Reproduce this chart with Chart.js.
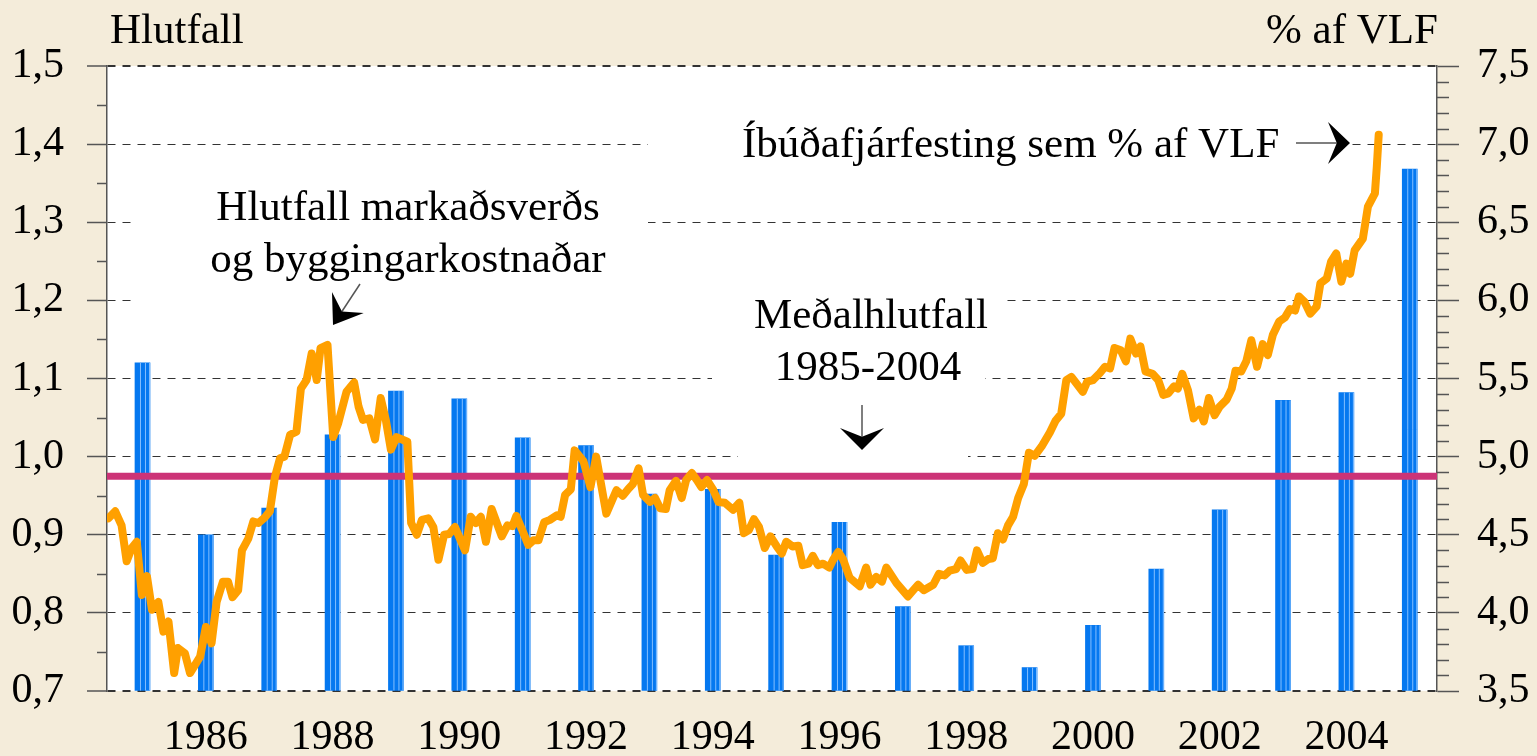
<!DOCTYPE html>
<html>
<head>
<meta charset="utf-8">
<script src="https://cdn.jsdelivr.net/npm/chart.js@4.4.1/dist/chart.umd.min.js"></script>
<style>
  html, body { margin: 0; padding: 0; background: #f4ecda; }
  canvas { display: block; }
</style>
</head>
<body>
<canvas id="chart" width="1537" height="756"></canvas>
<script>
// annual housing investment, % of GDP (right axis)
const barYears = [1985,1986,1987,1988,1989,1990,1991,1992,1993,1994,1995,
                  1996,1997,1998,1999,2000,2001,2002,2003,2004,2005];
const barValues = [5.60,4.50,4.67,5.14,5.42,5.37,5.12,5.07,4.76,4.79,4.37,
                   4.58,4.04,3.79,3.65,3.92,4.28,4.66,5.36,5.41,6.84];

// ratio of market price to building cost (left axis)
const lineYears = [
  1984.46,1984.57,1984.67,1984.75,1984.83,1984.91,1984.99,1985.07,1985.15,1985.25,1985.33,1985.41,1985.50,1985.56,1985.67,1985.75,1985.91,1986.00,1986.09,1986.17,1986.27,1986.35,1986.42,1986.51,1986.57,1986.67,1986.75,1986.83,1986.93,1987.01,1987.09,1987.17,1987.24,1987.33,1987.43,1987.50,1987.59,1987.67,1987.75,1987.81,1987.92,1988.01,1988.09,1988.22,1988.34,
  1988.41,1988.48,1988.58,1988.67,1988.76,1988.84,1988.92,1989.01,1989.18,1989.24,1989.33,1989.41,1989.51,1989.59,1989.67,1989.76,1989.84,1989.93,1990.09,1990.18,1990.26,1990.34,1990.42,1990.51,1990.67,1990.76,1990.84,1990.90,1991.09,1991.17,1991.25,1991.34,1991.43,1991.54,1991.60,1991.67,1991.76,1991.82,1991.96,1992.07,1992.16,
  1992.32,1992.48,1992.58,1992.67,1992.74,1992.83,1992.90,1993.01,1993.09,1993.17,1993.26,1993.32,1993.42,1993.51,1993.58,1993.67,1993.75,1993.82,1993.91,1994.01,1994.09,1994.19,1994.32,1994.42,1994.49,1994.57,1994.65,1994.73,1994.82,1994.91,1995.01,1995.09,1995.16,1995.26,1995.35,1995.42,1995.51,1995.58,1995.66,1995.74,1995.84,1995.90,1995.98,1996.06,1996.16,
  1996.32,1996.42,1996.49,1996.58,1996.67,1996.74,1996.90,1997.08,1997.24,1997.33,1997.48,1997.57,1997.66,1997.74,1997.84,1997.91,1998.01,1998.10,1998.17,1998.26,1998.35,1998.42,1998.50,1998.58,1998.66,1998.74,1998.82,1998.91,1998.99,1999.08,1999.19,1999.32,1999.41,1999.50,1999.58,1999.66,1999.84,1999.91,2000.00,
  2000.11,2000.19,2000.27,2000.34,2000.44,2000.52,2000.59,2000.68,2000.75,2000.83,2000.94,2001.03,2001.11,2001.19,2001.28,2001.34,2001.41,2001.50,2001.59,2001.68,2001.75,2001.83,2001.92,2002.00,2002.11,2002.19,2002.25,2002.34,2002.42,2002.50,2002.59,2002.68,2002.76,2002.84,2002.94,2003.03,2003.11,2003.19,2003.25,2003.34,2003.43,2003.53,2003.59,2003.69,2003.76,2003.84,2003.92,2004.00,2004.06,2004.13,2004.26,2004.34,2004.45,2004.48,2004.51
];
const lineValues = [
  0.921,0.930,0.912,0.866,0.883,0.891,0.823,0.847,0.804,0.814,0.776,0.789,0.723,0.755,0.748,0.723,0.744,0.782,0.761,0.814,0.840,0.840,0.820,0.829,0.880,0.895,0.917,0.915,0.922,0.930,0.974,0.998,1.000,1.028,1.032,1.087,1.098,1.132,1.098,1.139,1.143,1.025,1.043,1.083,1.095,
  1.064,1.047,1.049,1.022,1.075,1.047,1.009,1.025,1.019,0.915,0.900,0.919,0.921,0.910,0.868,0.900,0.901,0.910,0.880,0.923,0.915,0.923,0.891,0.933,0.898,0.912,0.911,0.924,0.887,0.893,0.893,0.916,0.919,0.925,0.923,0.951,0.958,1.008,0.994,0.961,1.000,
  0.927,0.957,0.950,0.959,0.965,0.985,0.951,0.942,0.947,0.934,0.933,0.957,0.969,0.947,0.970,0.979,0.970,0.961,0.970,0.957,0.942,0.941,0.932,0.941,0.902,0.906,0.920,0.910,0.883,0.898,0.885,0.876,0.891,0.885,0.886,0.861,0.863,0.873,0.861,0.863,0.858,0.868,0.878,0.868,0.845,
  0.834,0.858,0.836,0.846,0.840,0.858,0.838,0.821,0.836,0.829,0.836,0.850,0.848,0.854,0.856,0.867,0.855,0.856,0.880,0.864,0.869,0.870,0.902,0.894,0.912,0.923,0.947,0.965,1.005,1.001,1.013,1.031,1.046,1.055,1.098,1.102,1.083,1.096,1.098,
  1.107,1.115,1.113,1.139,1.136,1.122,1.151,1.132,1.141,1.109,1.106,1.098,1.079,1.081,1.090,1.087,1.106,1.085,1.049,1.060,1.045,1.075,1.053,1.064,1.073,1.087,1.110,1.109,1.122,1.149,1.115,1.144,1.130,1.156,1.173,1.178,1.189,1.187,1.205,1.198,1.183,1.192,1.222,1.228,1.250,1.260,1.224,1.247,1.234,1.264,1.279,1.320,1.337,1.371,1.412
];

const meanRatio = 0.975;   // Meðalhlutfall 1985-2004
const yearTicks = [1986,1988,1990,1992,1994,1996,1998,2000,2002,2004];
const xMin = 1984.44, xMax = 2005.43;

const FONT = '"Liberation Serif", "Times New Roman", serif';
const comma = v => Number(v).toFixed(1).replace('.', ',');

/* beige page, white plot area */
const paper = {
  id: 'paper',
  beforeDraw(chart) {
    const {ctx, chartArea: a} = chart;
    ctx.save();
    ctx.fillStyle = '#f4ecda';
    ctx.fillRect(0, 0, chart.width, chart.height);
    ctx.fillStyle = '#ffffff';
    ctx.fillRect(a.left, a.top, a.right - a.left, a.bottom - a.top);
    ctx.restore();
  }
};

/* text boxes hide parts of the gridlines */
const textBoxes = {
  id: 'textBoxes',
  beforeDatasetsDraw(chart) {
    const ctx = chart.ctx;
    const boxes = [
      [648, 130, 704, 28],
      [131, 205, 517, 34],
      [131, 290, 876, 20],
      [712, 370, 273, 16],
      [738, 449, 230, 16]
    ];
    ctx.save();
    ctx.fillStyle = '#ffffff';
    boxes.forEach(b => ctx.fillRect(b[0], b[1], b[2], b[3]));
    ctx.restore();
  }
};

/* light stripes inside each bar */
const barStripes = {
  id: 'barStripes',
  afterDatasetDraw(chart, args) {
    if (args.meta.type !== 'bar') return;
    const {ctx, chartArea} = chart;
    ctx.save();
    ctx.beginPath();
    ctx.rect(chartArea.left, chartArea.top, chartArea.right - chartArea.left, chartArea.bottom - chartArea.top);
    ctx.clip();
    ctx.strokeStyle = 'rgba(140,195,255,0.95)';
    ctx.lineWidth = 1;
    args.meta.data.forEach(bar => {
      const left = bar.x - bar.width / 2;
      const bottom = Math.min(bar.base, chartArea.bottom);
      [5.5, 10.5, bar.width - 0.5].forEach(off => {
        ctx.beginPath();
        ctx.moveTo(left + off, bar.y);
        ctx.lineTo(left + off, bottom);
        ctx.stroke();
      });
    });
    ctx.restore();
  }
};

function stealthArrow(ctx, x1, y1, x2, y2, len, half) {
  const d = Math.hypot(x2 - x1, y2 - y1);
  const ux = (x2 - x1) / d, uy = (y2 - y1) / d;
  const nx = -uy, ny = ux;
  const bx = x2 - ux * len, by = y2 - uy * len;
  const kx = x2 - ux * len * 0.6, ky = y2 - uy * len * 0.6;
  ctx.strokeStyle = '#555';
  ctx.lineWidth = 1.5;
  ctx.beginPath();
  ctx.moveTo(x1, y1);
  ctx.lineTo(kx, ky);
  ctx.stroke();
  ctx.fillStyle = '#000';
  ctx.beginPath();
  ctx.moveTo(x2, y2);
  ctx.lineTo(bx + nx * half, by + ny * half);
  ctx.lineTo(kx, ky);
  ctx.lineTo(bx - nx * half, by - ny * half);
  ctx.closePath();
  ctx.fill();
}

/* minor ticks, axis titles and annotations */
const decorations = {
  id: 'decorations',
  afterDraw(chart) {
    const {ctx, scales} = chart;
    const yl = scales.y, yr = scales.y2;
    ctx.save();
    ctx.strokeStyle = '#555';
    ctx.lineWidth = 1.5;
    for (let i = 0; i < 8; i++) {
      const py = Math.round(yl.getPixelForValue(0.75 + i * 0.1)) + 0.5;
      ctx.beginPath(); ctx.moveTo(yl.right - 10, py); ctx.lineTo(yl.right, py); ctx.stroke();
    }
    for (let i = 1; i < 40; i++) {
      if (i % 5 === 0) continue;
      const py = Math.round(yr.getPixelForValue(3.5 + i * 0.1)) + 0.5;
      ctx.beginPath(); ctx.moveTo(yr.left, py); ctx.lineTo(yr.left + 12, py); ctx.stroke();
    }

    ctx.fillStyle = '#000';
    ctx.font = '43px ' + FONT;
    ctx.textBaseline = 'alphabetic';
    ctx.textAlign = 'left';
    ctx.fillText('Hlutfall', 110, 43);
    ctx.fillText('Íbúðafjárfesting sem % af VLF', 742, 157);
    ctx.textAlign = 'right';
    ctx.fillText('% af VLF', 1438, 43);
    ctx.textAlign = 'center';
    ctx.fillText('Hlutfall markaðsverðs', 408, 220);
    ctx.fillText('og byggingarkostnaðar', 408, 272);
    ctx.fillText('Meðalhlutfall', 871, 328);
    ctx.fillText('1985-2004', 868, 380);

    stealthArrow(ctx, 360, 284, 333, 325, 27, 19);
    stealthArrow(ctx, 862, 405, 862, 450, 22, 22);
    stealthArrow(ctx, 1296, 143, 1350, 143, 22, 21);
    ctx.restore();
  }
};

new Chart(document.getElementById('chart'), {
  type: 'bar',
  data: {
    datasets: [
      {
        type: 'line',
        data: lineYears.map((x, i) => ({x: x, y: lineValues[i]})),
        yAxisID: 'y',
        borderColor: '#ffa000',
        borderWidth: 8,
        borderJoinStyle: 'round',
        borderCapStyle: 'round',
        pointRadius: 0,
        tension: 0,
        order: 1
      },
      {
        type: 'line',
        data: [{x: xMin, y: meanRatio}, {x: xMax, y: meanRatio}],
        yAxisID: 'y',
        borderColor: '#cc3377',
        borderWidth: 7,
        pointRadius: 0,
        order: 2
      },
      {
        type: 'bar',
        data: barYears.map((x, i) => ({x: x, y: barValues[i]})),
        yAxisID: 'y2',
        base: 3.5,
        backgroundColor: '#0578f0',
        barThickness: 15,
        grouped: false,
        order: 3
      }
    ]
  },
  options: {
    responsive: false,
    animation: false,
    layout: { padding: { top: 66, left: 0, right: 0, bottom: 0 } },
    plugins: { legend: { display: false }, tooltip: { enabled: false } },
    scales: {
      x: {
        type: 'linear',
        min: xMin,
        max: xMax,
        offset: false,
        grid: { display: false, drawTicks: false },
        border: { display: false },
        afterBuildTicks: s => { s.ticks = yearTicks.map(v => ({value: v})); },
        afterFit: s => { s.height = 65; },
        ticks: {
          autoSkip: false,
          maxRotation: 0,
          padding: 22,
          color: '#000',
          font: { family: FONT, size: 42 },
          callback: v => String(v)
        }
      },
      y: {
        position: 'left',
        min: 0.7,
        max: 1.5,
        afterFit: s => { s.width = 107; },
        ticks: {
          stepSize: 0.1,
          padding: 23,
          color: '#000',
          font: { family: FONT, size: 42 },
          callback: comma
        },
        grid: {
          color: '#333',
          lineWidth: c => (c.index === 0 || c.index === 8) ? 2 : 1,
          tickColor: '#555',
          tickLength: 20,
          tickWidth: 1.5
        },
        border: { display: true, color: '#555', width: 1.5, dash: [8, 7] }
      },
      y2: {
        position: 'right',
        min: 3.5,
        max: 7.5,
        afterFit: s => { s.width = 100; },
        ticks: {
          stepSize: 0.5,
          padding: 18,
          color: '#000',
          font: { family: FONT, size: 42 },
          callback: comma
        },
        grid: {
          drawOnChartArea: false,
          tickColor: '#555',
          tickLength: 22,
          tickWidth: 1.5
        },
        border: { display: true, color: '#555', width: 1.5 }
      }
    }
  },
  plugins: [paper, textBoxes, barStripes, decorations]
});
</script>
</body>
</html>
